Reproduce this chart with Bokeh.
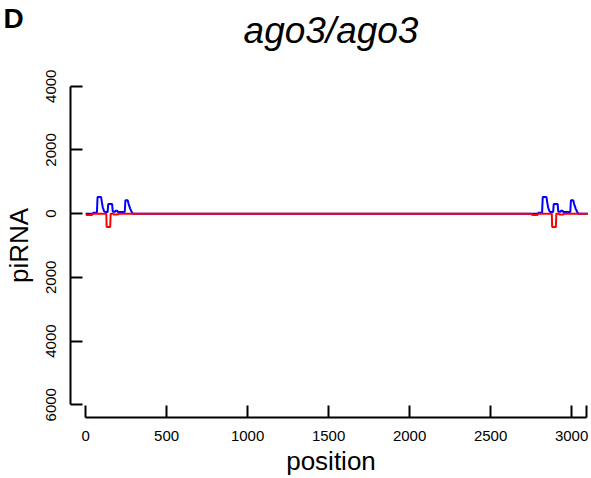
import math
from bokeh.plotting import figure
from bokeh.models import Range1d, FixedTicker, CustomJSTickFormatter, Label
from bokeh.embed import file_html
from bokeh.resources import INLINE

# ---- data ----
title_text = "ago3/ago3"
panel_text = "D"
x_ticks = [0, 500, 1000, 1500, 2000, 2500, 3000, 3093]
y_ticks = [-6000, -4000, -2000, 0, 2000, 4000]

# sense piRNA coverage (blue, positive)
sense_pos = [0, 45, 47, 70, 74, 96, 100, 106, 114, 120, 136, 140, 164, 168, 182, 185, 196, 199,
             242, 246, 260, 266, 276, 284, 292,
             2792, 2795, 2818, 2822, 2845, 2849, 2855, 2863, 2869, 2886, 2890, 2914, 2918,
             2932, 2935, 2946, 2949, 2992, 2996, 3010, 3016, 3026, 3034, 3042, 3100]
sense_val = [0, 0, 30, 30, 520, 520, 380, 200, 80, 50, 50, 300, 300, 60, 60, 90, 90, 50,
             50, 420, 420, 300, 150, 60, 0,
             0, 30, 30, 520, 520, 380, 200, 80, 50, 50, 300, 300, 60,
             60, 90, 90, 50, 50, 420, 420, 300, 150, 60, 0, 0]

# antisense piRNA coverage (red, negative)
anti_pos = [3, 40, 42, 128, 130, 152, 155, 172, 174, 200, 203,
            2755, 2757, 2790, 2792, 2878, 2880, 2903, 2906, 2922, 2924, 2950, 2953, 3100]
anti_val = [-40, -40, 0, 0, -420, -420, 0, 0, -30, -30, 0,
            0, -40, -40, 0, 0, -420, -420, 0, 0, -30, -30, 0, 0]

FONT = "Liberation Sans"

p = figure(width=591, height=478, output_backend="svg", toolbar_location=None,
           x_range=Range1d(-93, 3123), y_range=Range1d(-6400, 4400),
           min_border_left=70, min_border_right=0, min_border_top=73, min_border_bottom=61)
p.outline_line_color = None
p.xgrid.visible = False
p.ygrid.visible = False
p.background_fill_color = "white"
p.border_fill_color = "white"

p.title.text = title_text
p.title.align = "center"
p.title.text_font = FONT
p.title.text_font_style = "italic"
p.title.text_font_size = "37px"
p.title.text_color = "black"
p.title.standoff = -16

# panel letter, placed in the top side panel so it is not clipped to the frame
p.add_layout(Label(x=-67, y=55, x_units="screen", y_units="screen", text=panel_text,
                   text_font=FONT, text_font_style="bold", text_font_size="28px",
                   text_color="black", text_baseline="alphabetic", text_align="left"),
             "above")

for ax in (p.xaxis[0], p.yaxis[0]):
    ax.axis_line_width = 2
    ax.axis_line_color = "black"
    ax.major_tick_line_width = 2
    ax.major_tick_line_color = "black"
    ax.major_tick_in = 12
    ax.major_tick_out = 0
    ax.minor_tick_line_color = None
    ax.major_label_text_font = FONT
    ax.major_label_text_font_size = "15px"
    ax.major_label_text_color = "black"
    ax.axis_label_text_font = FONT
    ax.axis_label_text_font_size = "26px"
    ax.axis_label_text_font_style = "normal"
    ax.axis_label_text_color = "black"

xa = p.xaxis[0]
xa.axis_label = "position"
xa.ticker = FixedTicker(ticks=x_ticks)
xa.formatter = CustomJSTickFormatter(code="return tick > 3050 ? '' : tick.toFixed(0);")
xa.bounds = (0, 3093)
xa.major_label_standoff = 13
xa.axis_label_standoff = 2

ya = p.yaxis[0]
ya.axis_label = "piRNA"
ya.ticker = FixedTicker(ticks=y_ticks)
ya.formatter = CustomJSTickFormatter(code="return Math.abs(tick).toFixed(0);")
ya.bounds = (-6000, 4000)
ya.major_label_orientation = "parallel"
ya.major_label_standoff = 14
ya.axis_label_standoff = 10

p.line(sense_pos, sense_val, line_color="#0000FF", line_width=2)
p.line(anti_pos, anti_val, line_color="#FF0000", line_width=2)

open("out.html", "w").write(file_html(p, INLINE))
